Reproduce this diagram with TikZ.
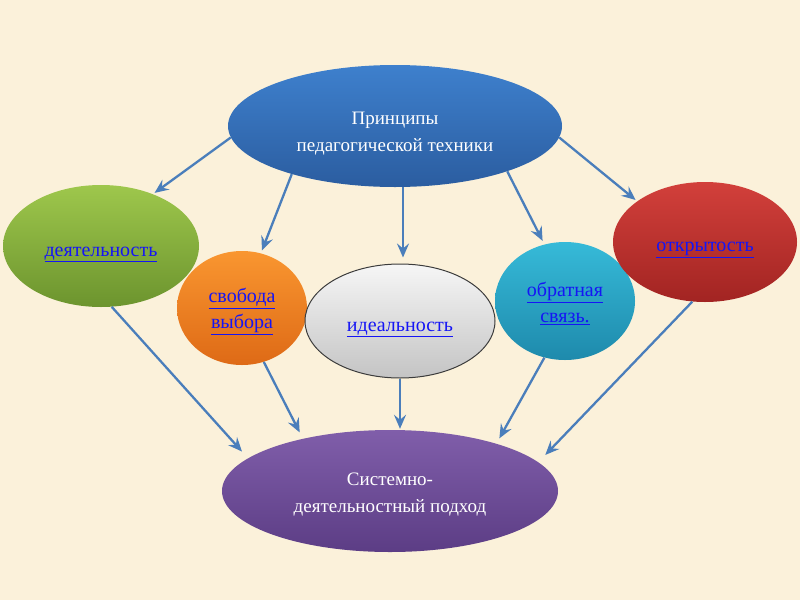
\documentclass[tikz,border=0pt]{standalone}
\usepackage{fontspec}
\setmainfont{Liberation Serif}
\usetikzlibrary{shapes.geometric,arrows.meta}
\definecolor{bg}{HTML}{FBF1DA}
\definecolor{arrowblue}{HTML}{4A7EBB}
\definecolor{linkblue}{HTML}{1515F5}
\newcommand{\lnk}[1]{\underline{#1}}
\newcommand{\lift}[1]{\rule{0pt}{#1}}

\begin{document}
\begin{tikzpicture}[x=1pt,y=-1pt,
  oval/.style={ellipse,inner sep=0pt,align=center,font=\fontsize{19}{27}\selectfont},
  link/.style={text=linkblue,font=\fontsize{20}{26}\selectfont},
  arr/.style={draw=arrowblue,line width=2.3pt,-{Stealth[length=14pt,width=12pt,inset=5pt]}}]
  \fill[bg] (0,0) rectangle (800,600);
  \node[oval,minimum width=334pt,minimum height=122pt,top color={rgb,255:red,62;green,128;blue,205},bottom color={rgb,255:red,43;green,93;blue,160},text=white] (top) at (395,126) {\lift{27pt}Принципы\\педагогической техники};
  \node[oval,link,minimum width=196pt,minimum height=122pt,top color={rgb,255:red,158;green,199;blue,76},bottom color={rgb,255:red,108;green,148;blue,46}] (act) at (101,246) {\lift{26pt}\lnk{деятельность}};
  \node[oval,link,minimum width=130pt,minimum height=114pt,top color={rgb,255:red,249;green,150;blue,48},bottom color={rgb,255:red,222;green,106;blue,22}] (free) at (242,308) {\lift{22pt}\lnk{свобода}\\\lnk{выбора}};
  \node[oval,link,minimum width=190pt,minimum height=114pt,draw={rgb,255:red,60;green,60;blue,60},line width=1pt,top color={rgb,255:red,246;green,246;blue,246},bottom color={rgb,255:red,196;green,196;blue,196}] (ideal) at (400,321) {\lift{26pt}\lnk{идеальность}};
  \node[oval,link,minimum width=140pt,minimum height=118pt,top color={rgb,255:red,54;green,186;blue,216},bottom color={rgb,255:red,30;green,138;blue,172}] (fb) at (565,301) {\lift{20pt}\lnk{обратная}\\\lnk{связь.}};
  \node[oval,link,minimum width=184pt,minimum height=120pt,top color={rgb,255:red,210;green,64;blue,59},bottom color={rgb,255:red,162;green,36;blue,34}] (open) at (705,242) {\lift{26pt}\lnk{открытость}};
  \node[oval,minimum width=336pt,minimum height=122pt,top color={rgb,255:red,128;green,94;blue,170},bottom color={rgb,255:red,92;green,61;blue,133},text=white] (base) at (390,491) {\lift{19pt}Системно-\\деятельностный подход};
  \draw[arr,shorten >=2pt] (top.184) -- (act.45);
  \draw[arr,shorten >=3pt] (top.205) -- (free.71);
  \draw[arr,shorten >=6pt] ([xshift=3pt]ideal.north |- top.south) -- ([xshift=3pt]ideal.north);
  \draw[arr,shorten >=4pt] (top.338) -- (fb.110);
  \draw[arr,shorten >=2pt] (top.356) -- (open.149);
  \draw[arr,shorten >=9pt] (act.280) -- (base.167);
  \draw[arr,shorten >=7pt] (free.292) -- (base.149);
  \draw[arr,shorten >=1pt] (ideal.south) -- (ideal.south |- base.north);
  \draw[arr,shorten >=6pt] (fb.250) -- (base.24);
  \draw[arr,shorten >=10pt] (open.258) -- (base.11);
\end{tikzpicture}
\end{document}
